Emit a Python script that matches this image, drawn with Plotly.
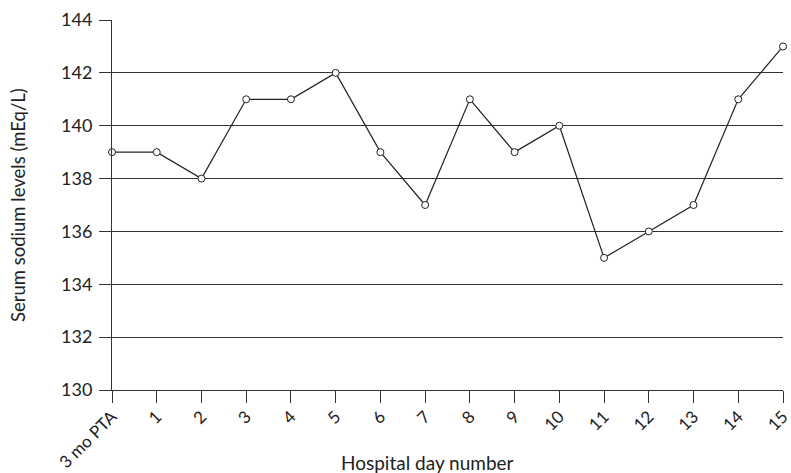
import plotly.graph_objects as go

categories = ["3 mo PTA", "1", "2", "3", "4", "5", "6", "7", "8", "9", "10", "11", "12", "13", "14", "15"]
sodium = [139, 139, 138, 141, 141, 142, 139, 137, 141, 139, 140, 135, 136, 137, 141, 143]
y_ticks = [130, 132, 134, 136, 138, 140, 142, 144]
x_title = "Hospital day number"
y_title = "Serum sodium levels (mEq/L)"

x_pos = list(range(len(categories)))

fig = go.Figure()
fig.add_trace(go.Scatter(
    x=x_pos, y=sodium, mode="lines+markers",
    line=dict(color="#222222", width=1.2),
    marker=dict(symbol="circle", size=7, color="white", line=dict(color="#222222", width=1)),
    cliponaxis=False, showlegend=False,
))

fig.update_layout(
    width=791, height=473,
    margin=dict(l=112, r=8, t=20, b=83),
    paper_bgcolor="white", plot_bgcolor="white",
    font=dict(family="Lato, 'Open Sans', sans-serif", color="#222222", size=16),
)
fig.update_xaxes(
    range=[0, 15], tickmode="array", tickvals=x_pos, ticktext=categories,
    tickangle=-45, ticks="outside", ticklen=12, tickcolor="#333333", tickwidth=1,
    showgrid=False, showline=True, linecolor="#333333", linewidth=1, zeroline=False,
    tickfont=dict(size=17), automargin=False, ticklabeloverflow="allow",
    ticklabelstandoff=-3,
)
fig.update_yaxes(
    range=[130, 144], tickmode="array", tickvals=y_ticks,
    ticks="outside", ticklen=12, tickcolor="#333333", tickwidth=1,
    showgrid=True, gridcolor="#333333", gridwidth=1,
    showline=True, linecolor="#333333", linewidth=1, zeroline=False,
    tickfont=dict(size=18), automargin=False, ticklabelstandoff=3,
)
fig.add_annotation(
    text=y_title, xref="paper", yref="paper", x=0, y=0.5,
    xanchor="center", yanchor="middle", xshift=-94, textangle=-90,
    showarrow=False, font=dict(size=18.5),
)
fig.add_annotation(
    text=x_title, xref="paper", yref="paper", x=0.5, y=0,
    xanchor="center", yanchor="middle", xshift=-20, yshift=-72,
    showarrow=False, font=dict(size=19),
)

fig.write_html(
    "out.html",
    config={"displayModeBar": False},
    post_script="document.body.style.margin='0';document.body.style.overflow='hidden';",
)
